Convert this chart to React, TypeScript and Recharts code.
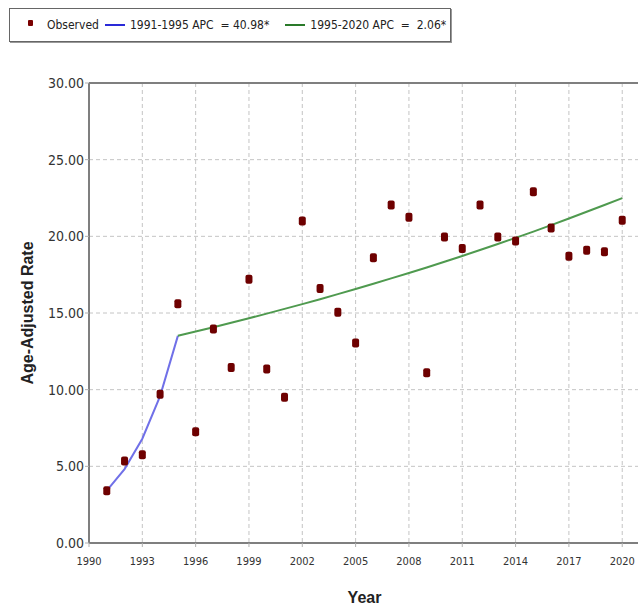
import {
    ComposedChart,
    Scatter,
    Line,
    XAxis,
    YAxis,
    CartesianGrid,
    ReferenceLine,
} from "recharts";

const years = [
    1991, 1992, 1993, 1994, 1995, 1996, 1997, 1998, 1999, 2000,
    2001, 2002, 2003, 2004, 2005, 2006, 2007, 2008, 2009, 2010,
    2011, 2012, 2013, 2014, 2015, 2016, 2017, 2018, 2019, 2020,
];

const observed = [
    3.4, 5.35, 5.75, 9.7, 15.6, 7.25, 13.95, 11.45, 17.2, 11.35,
    9.5, 21.0, 16.6, 15.05, 13.05, 18.6, 22.05, 21.25, 11.1, 19.95,
    19.2, 22.05, 19.95, 19.7, 22.9, 20.55, 18.7, 19.1, 19.0, 21.05,
];

// joinpoint segment 1 (1991-1995)
const seg1Years = [1991, 1992, 1993, 1994, 1995];
const seg1Fit = [3.42, 4.82, 6.8, 9.58, 13.51];

// joinpoint segment 2 (1995-2020)
const seg2Years = [
    1995, 1996, 1997, 1998, 1999, 2000, 2001, 2002, 2003, 2004,
    2005, 2006, 2007, 2008, 2009, 2010, 2011, 2012, 2013, 2014,
    2015, 2016, 2017, 2018, 2019, 2020,
];
const seg2Fit = [
    13.51, 13.79, 14.07, 14.36, 14.66, 14.96, 15.27, 15.58, 15.9, 16.23,
    16.57, 16.91, 17.26, 17.61, 17.97, 18.34, 18.72, 19.11, 19.5, 19.9,
    20.31, 20.73, 21.16, 21.6, 22.04, 22.49,
];

const xTicks = [1990, 1993, 1996, 1999, 2002, 2005, 2008, 2011, 2014, 2017, 2020];
const yTicks = [0, 5, 10, 15, 20, 25, 30];

const legendItems = [
    { label: "Observed", kind: "dot", color: "#7a0000", gap: 6 },
    { label: "1991-1995 APC  = 40.98*", kind: "line", color: "#2a2ad8", gap: 16 },
    { label: "1995-2020 APC  =  2.06*", kind: "line", color: "#2a7a2a", gap: 0 },
];

const obsData = years.map((year, i) => ({ year, rate: observed[i] }));
const seg1Data = seg1Years.map((year, i) => ({ year, rate: seg1Fit[i] }));
const seg2Data = seg2Years.map((year, i) => ({ year, rate: seg2Fit[i] }));

const narrow = "'DejaVu Sans Condensed', 'Liberation Sans Narrow', sans-serif";
const bold = "Arial, 'Liberation Sans', sans-serif";

const Marker = (props: any) => {
    const { cx, cy } = props;
    if (cx == null || cy == null) return null;
    return (
        <rect
            x={cx - 3.5}
            y={cy - 4.5}
            width={7}
            height={9}
            rx={2}
            fill="#6e0000"
        />
    );
};

function LegendBox() {
    return (
        <div
            style={{
                position: "absolute",
                left: 9,
                top: 8,
                width: 442,
                height: 34,
                border: "1px solid #666",
                boxShadow: "1px 1px 0 #999",
                background: "#fff",
                display: "flex",
                alignItems: "center",
                fontFamily: narrow,
                fontStretch: "condensed",
                fontSize: 12,
                color: "#222",
                boxSizing: "border-box",
                paddingLeft: 18,
            }}
        >
            {legendItems.map((item) => (
                <div
                    key={item.label}
                    style={{
                        display: "flex",
                        alignItems: "center",
                        marginRight: item.gap,
                        whiteSpace: "pre",
                    }}
                >
                    {item.kind === "dot" ? (
                        <span
                            style={{
                                display: "inline-block",
                                width: 5,
                                height: 6,
                                borderRadius: 1,
                                background: item.color,
                                margin: "0 14px 4px 0",
                            }}
                        />
                    ) : (
                        <span
                            style={{
                                display: "inline-block",
                                width: 20,
                                height: 2,
                                background: item.color,
                                marginRight: 5,
                            }}
                        />
                    )}
                    {item.label}
                </div>
            ))}
        </div>
    );
}

export default function App() {
    return (
        <div
            style={{
                position: "absolute",
                left: 0,
                top: 0,
                width: 638,
                height: 614,
                overflow: "hidden",
                background: "#fff",
            }}
        >
            <LegendBox />
            <ComposedChart
                width={660}
                height={614}
                margin={{ top: 83, right: 20, bottom: 3, left: 29 }}
            >
                <CartesianGrid
                    stroke="#c4c4c4"
                    strokeDasharray="4 3"
                />
                <XAxis
                    type="number"
                    dataKey="year"
                    domain={[1990, 2021]}
                    ticks={xTicks}
                    interval={0}
                    allowDuplicatedCategory={false}
                    height={68}
                    tickSize={4}
                    tickMargin={10}
                    axisLine={{ stroke: "#7f7f7f", strokeWidth: 2 }}
                    tickLine={{ stroke: "#b0b0b0" }}
                    tick={{ fill: "#333", fontSize: 11, fontFamily: narrow }}
                    label={{
                        value: "Year",
                        position: "insideBottom",
                        offset: 8,
                        fill: "#222",
                        fontSize: 16,
                        fontWeight: "bold",
                        fontFamily: bold,
                    }}
                />
                <YAxis
                    type="number"
                    domain={[0, 30]}
                    ticks={yTicks}
                    interval={0}
                    width={60}
                    tickSize={4}
                    tickMargin={1}
                    axisLine={{ stroke: "#7f7f7f", strokeWidth: 2 }}
                    tickLine={{ stroke: "#b0b0b0" }}
                    tick={{ fill: "#333", fontSize: 14, fontFamily: narrow }}
                    tickFormatter={(v: number) => v.toFixed(2)}
                    label={{
                        value: "Age-Adjusted Rate",
                        angle: -90,
                        position: "insideLeft",
                        offset: -2,
                        style: { textAnchor: "middle" },
                        fill: "#222",
                        fontSize: 16,
                        fontWeight: "bold",
                        fontFamily: bold,
                    }}
                />
                <ReferenceLine y={30} stroke="#7f7f7f" strokeWidth={2} />
                <Line
                    data={seg1Data}
                    dataKey="rate"
                    type="linear"
                    stroke="#7070e8"
                    strokeWidth={2}
                    dot={false}
                    activeDot={false}
                    isAnimationActive={false}
                />
                <Line
                    data={seg2Data}
                    dataKey="rate"
                    type="linear"
                    stroke="#4f9a4f"
                    strokeWidth={2}
                    dot={false}
                    activeDot={false}
                    isAnimationActive={false}
                />
                <Scatter
                    data={obsData}
                    dataKey="rate"
                    shape={<Marker />}
                    isAnimationActive={false}
                />
            </ComposedChart>
        </div>
    );
}
